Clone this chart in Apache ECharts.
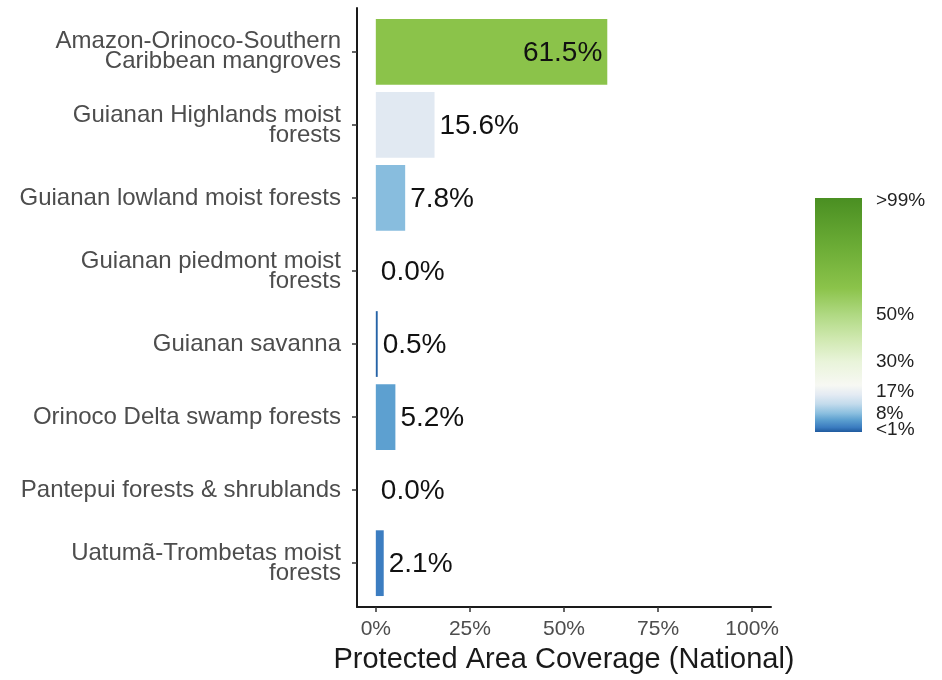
<!DOCTYPE html>
<html><head><meta charset="utf-8">
<script src="https://cdn.jsdelivr.net/npm/echarts@6/dist/echarts.min.js"></script>
<style>html,body{margin:0;padding:0;background:#fff}#c{width:942px;height:680px}</style>
</head><body><div id="c"></div>
<script>
const categories = [
  'Amazon-Orinoco-Southern\nCaribbean mangroves',
  'Guianan Highlands moist\nforests',
  'Guianan lowland moist forests',
  'Guianan piedmont moist\nforests',
  'Guianan savanna',
  'Orinoco Delta swamp forests',
  'Pantepui forests & shrublands',
  'Uatumã-Trombetas moist\nforests'
];
const coverage = [61.5, 15.6, 7.8, 0.0, 0.5, 5.2, 0.0, 2.1];
const xTicks = [0, 25, 50, 75, 100];
const legendTicks = [0.01, 0.08, 0.17, 0.30, 0.50, 0.99];
const legendTickLabels = ['<1%', '8%', '17%', '30%', '50%', '>99%'];
const colorStopValues = [0, 0.02, 0.05, 0.08, 0.12, 0.16, 0.20, 0.30, 0.40, 0.50, 0.615, 0.80, 1.0];
const colorStopColors = ['#1f5a9e', '#3b7cc0', '#5a9ecf', '#8bbfdf', '#c3dbec', '#e4ebf3', '#f7f8f3', '#e9f4da', '#cfe8af', '#b0d983', '#8bc34a', '#6aab35', '#4a8f22'];

function hexToRgb(h) { return [parseInt(h.slice(1,3),16), parseInt(h.slice(3,5),16), parseInt(h.slice(5,7),16)]; }
function colorAt(t) {
  t = Math.max(0, Math.min(1, t));
  for (let i = 1; i < colorStopValues.length; i++) {
    if (t <= colorStopValues[i]) {
      const a = colorStopValues[i-1], b = colorStopValues[i];
      const f = (t - a) / (b - a);
      const c1 = hexToRgb(colorStopColors[i-1]), c2 = hexToRgb(colorStopColors[i]);
      const c = c1.map((v, k) => Math.round(v + (c2[k] - v) * f));
      return 'rgb(' + c.join(',') + ')';
    }
  }
  return colorStopColors[colorStopColors.length - 1];
}

const FONT = '"Liberation Sans", Arial, Helvetica, sans-serif';
const chart = echarts.init(document.getElementById('c'));
const barData = coverage.map((v, i) => [v, i]);
const catIdx = categories.map((c, i) => i);
// split legend labels over two overlapping axes so close labels are not dropped
const legendTicksA = legendTicks.filter((v, i) => i % 2 === 0);
const legendTicksB = legendTicks.filter((v, i) => i % 2 === 1);
const legendFmt = v => legendTickLabels[legendTicks.indexOf(v)];
const legendLabelStyle = { formatter: legendFmt, color: '#222', fontSize: 19, fontFamily: FONT, margin: 14, hideOverlap: false, showMinLabel: true, showMaxLabel: true };

chart.setOption({
  animation: false,
  backgroundColor: '#fff',
  textStyle: { fontFamily: FONT },
  grid: [
    { left: 357, right: 171, top: 8, height: 599 },
    { left: 815, width: 47, top: 198, height: 234 }
  ],
  xAxis: [
    {
      type: 'value', gridIndex: 0, min: -5, max: 105,
      axisLine: { show: true, onZero: false, lineStyle: { color: '#1a1a1a', width: 2 } },
      axisTick: { show: true, customValues: xTicks, length: 5, lineStyle: { color: '#333', width: 1.5 } },
      axisLabel: { customValues: xTicks, formatter: v => v + '%', color: '#4d4d4d', fontSize: 21, fontFamily: FONT, margin: 12, hideOverlap: false, showMinLabel: true, showMaxLabel: true },
      splitLine: { show: false },
      name: 'Protected Area Coverage (National)', nameLocation: 'middle', nameGap: 38,
      nameTextStyle: { color: '#1a1a1a', fontSize: 29, fontFamily: FONT }
    },
    {
      type: 'category', gridIndex: 1, data: ['c'], show: false
    }
  ],
  yAxis: [
    {
      type: 'value', gridIndex: 0, inverse: true, min: -0.6, max: 7.6,
      axisLine: { show: true, onZero: false, lineStyle: { color: '#1a1a1a', width: 2 } },
      axisTick: { show: true, customValues: catIdx, length: 5, lineStyle: { color: '#333', width: 1.5 } },
      axisLabel: { customValues: catIdx, formatter: v => categories[v], color: '#4d4d4d', fontSize: 24, lineHeight: 20, fontFamily: FONT, margin: 16, hideOverlap: false, showMinLabel: true, showMaxLabel: true },
      splitLine: { show: false }
    },
    {
      type: 'value', gridIndex: 1, min: 0, max: 1, position: 'right',
      axisLine: { show: false, onZero: false },
      axisTick: { show: true, inside: true, customValues: legendTicks, length: 9, lineStyle: { color: 'rgba(255,255,255,0.85)', width: 1 } },
      axisLabel: Object.assign({ customValues: legendTicksA }, legendLabelStyle),
      splitLine: { show: false }
    },
    {
      type: 'value', gridIndex: 1, min: 0, max: 1, position: 'right', offset: 0,
      axisLine: { show: false, onZero: false },
      axisTick: { show: false },
      axisLabel: Object.assign({ customValues: legendTicksB }, legendLabelStyle),
      splitLine: { show: false }
    },
    {
      type: 'value', gridIndex: 1, min: 0, max: 1, position: 'left',
      axisLine: { show: false, onZero: false },
      axisTick: { show: true, inside: true, customValues: legendTicks, length: 9, lineStyle: { color: 'rgba(255,255,255,0.85)', width: 1 } },
      axisLabel: { show: false },
      splitLine: { show: false }
    }
  ],
  series: [
    {
      type: 'custom', xAxisIndex: 0, yAxisIndex: 0, data: barData,
      renderItem: function (params, api) {
        const v = api.value(0), idx = api.value(1);
        const p0 = api.coord([0, idx]);
        const p1 = api.coord([v, idx]);
        const h = Math.abs(api.size([0, 0.9])[1]);
        const inside = v > 30;
        return {
          type: 'group',
          children: [
            { type: 'rect', shape: { x: p0[0], y: p0[1] - h / 2, width: p1[0] - p0[0], height: h }, style: { fill: colorAt(v / 100) } },
            { type: 'text', x: inside ? p1[0] - 5 : p1[0] + 5, y: p0[1] + 1,
              style: { text: v.toFixed(1) + '%', align: inside ? 'right' : 'left', verticalAlign: 'middle', fontSize: 28, fontFamily: FONT, fill: '#111' } }
          ]
        };
      }
    },
    {
      type: 'bar', xAxisIndex: 1, yAxisIndex: 1, data: [1], barWidth: '100%', silent: true,
      itemStyle: {
        color: new echarts.graphic.LinearGradient(0, 1, 0, 0, colorStopValues.map((o, i) => ({ offset: o, color: colorStopColors[i] })))
      }
    }
  ]
});
</script></body></html>
